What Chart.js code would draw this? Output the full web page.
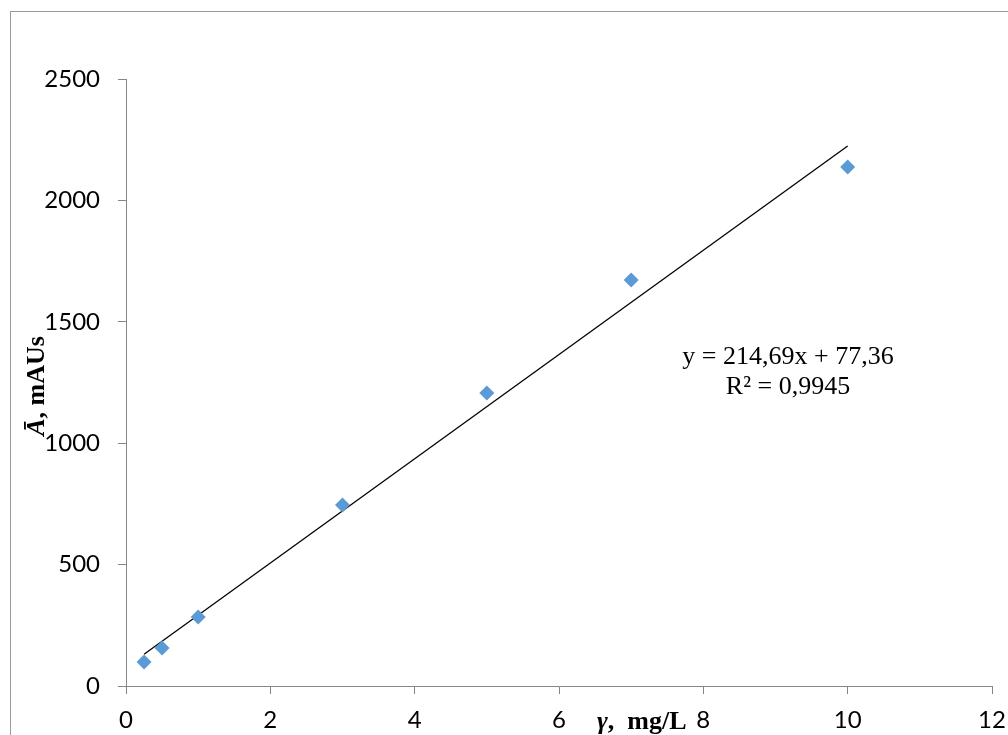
<!DOCTYPE html>
<html>
<head>
<meta charset="utf-8">
<script src="https://cdn.jsdelivr.net/npm/chart.js@4"></script>
<style>
  body { margin: 0; background: #fff; }
  canvas { display: block; }
</style>
</head>
<body>
<canvas id="myChart" width="1008" height="735"></canvas>
<script>
// Calibration data (concentration vs mean area)
const concentrations = [0.25, 0.5, 1, 3, 5, 7, 10];
const areas = [99, 156, 284, 745, 1207, 1672, 2138];

// Linear trendline from the figure
const slope = 214.69;
const intercept = 77.36;
const trendX = [0.25, 10];

const equationLines = ['y = 214,69x + 77,36', 'R² = 0,9945'];

const points = concentrations.map((c, i) => ({ x: c, y: areas[i] }));
const trendPoints = trendX.map(x => ({ x: x, y: slope * x + intercept }));

// Draws frame, axis titles and equation text
const decorations = {
    id: 'decorations',
    afterDraw(chart) {
        const ctx = chart.ctx;
        ctx.save();
        ctx.strokeStyle = '#9a9a9a';
        ctx.lineWidth = 1;
        ctx.strokeRect(10.5, 11.5, 1100, 1000);

        ctx.fillStyle = '#000';
        ctx.textBaseline = 'alphabetic';

        // equation
        ctx.font = '26px "Liberation Serif"';
        ctx.textAlign = 'center';
        ctx.fillText(equationLines[0], 788, 364);
        ctx.fillText(equationLines[1], 788, 394);

        // x title
        ctx.textAlign = 'left';
        ctx.font = 'italic bold 26px "Liberation Serif"';
        let x = 597;
        ctx.fillText('γ', x, 729);
        x += ctx.measureText('γ').width;
        ctx.font = 'bold 26px "Liberation Serif"';
        ctx.fillText(',  mg/L', x, 729);

        // y title
        ctx.translate(44, 386);
        ctx.rotate(-Math.PI / 2);
        ctx.font = 'italic bold 26px "Liberation Serif"';
        const w1 = ctx.measureText('Ā').width;
        ctx.font = 'bold 26px "Liberation Serif"';
        const w2 = ctx.measureText(', mAUs').width;
        let start = -(w1 + w2) / 2;
        ctx.font = 'italic bold 26px "Liberation Serif"';
        ctx.fillText('Ā', start, 0);
        ctx.font = 'bold 26px "Liberation Serif"';
        ctx.fillText(', mAUs', start + w1, 0);
        ctx.restore();
    }
};

const ctx = document.getElementById('myChart').getContext('2d');
const myChart = new Chart(ctx, {
    type: 'scatter',
    data: {
        datasets: [{
            label: 'Data',
            data: points,
            pointStyle: 'rectRot',
            pointRadius: 7.5,
            pointHoverRadius: 7.5,
            backgroundColor: '#5b9bd5',
            borderColor: '#5b9bd5',
            borderWidth: 0,
            order: 1
        }, {
            label: 'Trend',
            type: 'line',
            data: trendPoints,
            borderColor: '#000',
            borderWidth: 1.3,
            pointRadius: 0,
            fill: false,
            order: 2
        }]
    },
    plugins: [decorations],
    options: {
        responsive: false,
        animation: false,
        layout: { padding: { top: 79, right: 16, left: 0, bottom: 0 } },
        plugins: {
            legend: { display: false },
            tooltip: { enabled: false }
        },
        scales: {
            x: {
                type: 'linear',
                min: 0,
                max: 12,
                afterFit: s => { s.height = 49; s.paddingLeft = 0; s.paddingRight = 0; },
                ticks: {
                    stepSize: 2,
                    color: '#000',
                    padding: 12,
                    callback: v => String(v),
                    font: { family: 'Lato', size: 24 }
                },
                grid: { drawOnChartArea: false, drawTicks: true, tickLength: 8, color: '#868686' },
                border: { display: true, color: '#868686' }
            },
            y: {
                min: 0,
                max: 2500,
                afterFit: s => { s.width = 126; s.paddingTop = 0; s.paddingBottom = 0; },
                ticks: {
                    stepSize: 500,
                    color: '#000',
                    padding: 18,
                    callback: v => String(v),
                    font: { family: 'Lato', size: 24 }
                },
                grid: { drawOnChartArea: false, drawTicks: true, tickLength: 8, color: '#868686' },
                border: { display: true, color: '#868686' }
            }
        }
    }
});
</script>
</body>
</html>
